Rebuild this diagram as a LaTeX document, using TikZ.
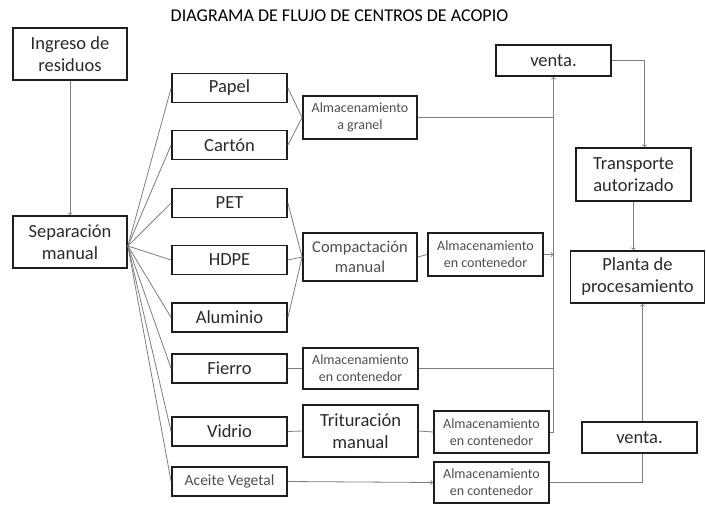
\documentclass[tikz,border=0pt]{standalone}
\usepackage{fontspec}
\setmainfont{Carlito}
\definecolor{linegray}{HTML}{7E7E7E}
\definecolor{boxline}{HTML}{1E1E1E}
\definecolor{txtdark}{HTML}{2A2A2A}
\definecolor{txtgray}{HTML}{4E4E4E}
\begin{document}
\begin{tikzpicture}[x=1pt, y=-1pt, >=to,
  box/.style={draw=boxline, line width=1.8pt, inner sep=0pt, align=center,
    text=txtdark, font=\fontsize{18.5}{22}\selectfont},
  smallbox/.style={box, text=txtgray, font=\fontsize{14}{17}\selectfont},
  link/.style={draw=linegray, line width=0.8pt}]
  \useasboundingbox (0,0) rectangle (706,504);

  \node (title) at (339.5,16) {\fontsize{18}{20}\selectfont DIAGRAMA DE FLUJO DE CENTROS DE ACOPIO};

  % left column
  \node[box, minimum width=114pt, minimum height=52pt] (ingreso) at (70,54) {Ingreso de\\residuos};
  \node[box, minimum width=114pt, minimum height=52pt] (sep) at (70,242) {Separación\\manual};

  % materials
  \node[box, minimum width=115pt, minimum height=29pt] (papel) at (229.5,88) {Papel};
  \node[box, minimum width=115pt, minimum height=29pt] (carton) at (229.5,145) {Cartón};
  \node[box, minimum width=115pt, minimum height=29pt] (pet) at (229.5,203) {PET};
  \node[box, minimum width=115pt, minimum height=29pt] (hdpe) at (229.5,260) {HDPE};
  \node[box, minimum width=115pt, minimum height=29pt] (alum) at (229.5,317.5) {Aluminio};
  \node[box, minimum width=115pt, minimum height=29pt] (fierro) at (229.5,368.5) {Fierro};
  \node[box, minimum width=115pt, minimum height=29pt] (vidrio) at (229.5,431.5) {Vidrio};
  \node[box, minimum width=115pt, minimum height=29pt, text=txtgray,
    font=\fontsize{15.5}{18}\selectfont] (aceite) at (229.5,481.5) {Aceite Vegetal};

  % treatment and storage
  \node[smallbox, minimum width=114pt, minimum height=43pt] (granel) at (360,117.5) {Almacenamiento\\a granel};
  \node[box, text=txtgray, font=\fontsize{16.5}{20}\selectfont,
    minimum width=114pt, minimum height=48pt] (compac) at (360,257) {Compactación\\manual};
  \node[smallbox, minimum width=115pt, minimum height=43pt] (almA) at (485.5,254.5) {Almacenamiento\\en contenedor};
  \node[smallbox, minimum width=115pt, minimum height=41pt] (almF) at (360.5,368.5) {Almacenamiento\\en contenedor};
  \node[box, minimum width=115pt, minimum height=52pt] (trit) at (360.5,431) {Trituración\\manual};
  \node[smallbox, minimum width=115pt, minimum height=42pt] (almT) at (491.5,432) {Almacenamiento\\en contenedor};
  \node[smallbox, minimum width=115pt, minimum height=41pt] (almV) at (491.5,482.5) {Almacenamiento\\en contenedor};

  % right column
  \node[box, minimum width=115pt, minimum height=31pt] (venta1) at (553.5,60.5) {venta.};
  \node[box, minimum width=115pt, minimum height=53pt] (transp) at (633.5,174.5) {Transporte\\autorizado};
  \node[box, minimum width=134pt, minimum height=52pt] (planta) at (637.5,277) {Planta de\\procesamiento};
  \node[box, minimum width=115pt, minimum height=31pt] (venta2) at (639.5,437.5) {venta.};

  \draw[link, ->] (ingreso) -- (sep);

  % fan out of the separation
  \foreach \m in {papel,carton,pet,hdpe,alum,fierro,vidrio,aceite}
    \draw[link] ([yshift=-4pt]sep.east) -- (\m.west);

  \draw[link] (papel.east) -- (granel.west);
  \draw[link] (carton.east) -- (granel.west);
  \draw[link] (pet.east) -- (compac.west);
  \draw[link] (hdpe.east) -- (compac.west);
  \draw[link] (alum.east) -- (compac.west);
  \draw[link] (compac.east) -- (almA.west);
  \draw[link] (fierro.east) -- (almF.west);
  \draw[link] (vidrio.east) -- (trit.west);
  \draw[link] (trit.east) -- (almT.west);
  \draw[link, ->] (aceite.east) -- (almV.west);

  % collector to the sale
  \draw[link, ->] (almT.east) -- (almT.east -| venta1.south) -- (venta1.south);
  \draw[link] (granel.east) -- (granel.east -| venta1.south);
  \draw[link] (almF.east) -- (almF.east -| venta1.south);
  \draw[link, ->] (almA.east) -- (almA.east -| venta1.south);

  \draw[link, ->] (venta1.east) -| ([xshift=11pt]transp.north);
  \draw[link, ->] (transp.south) -- (transp.south |- planta.north);

  \draw[link] (almV.east) -| ([xshift=3pt]venta2.south);
  \draw[link, ->] ([xshift=3pt]venta2.north) -- ([xshift=3pt]venta2.north |- planta.south);
\end{tikzpicture}
\end{document}
